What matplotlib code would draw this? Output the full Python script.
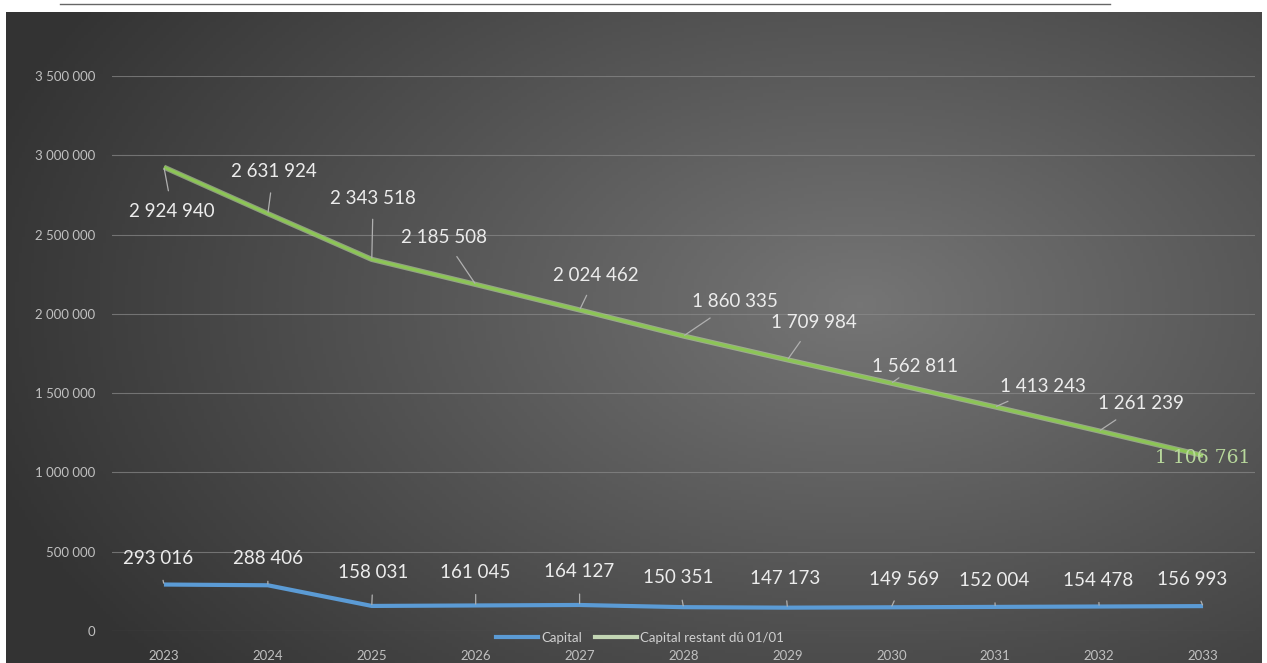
import numpy as np
import matplotlib.pyplot as plt
from matplotlib.lines import Line2D

plt.rcParams['font.family'] = ['Lato', 'DejaVu Sans']

years = ['2023', '2024', '2025', '2026', '2027', '2028', '2029', '2030', '2031', '2032', '2033']
capital = [293016, 288406, 158031, 161045, 164127, 150351, 147173, 149569, 152004, 154478, 156993]
restant = [2924940, 2631924, 2343518, 2185508, 2024462, 1860335, 1709984, 1562811, 1413243, 1261239, 1106761]

# label offsets in points (dx, dy) from each data point
off_restant = [(6, -32), (4, 30), (1, 44), (-23, 34), (12, 25), (37, 25), (19, 27), (17, 12), (34, 15), (30, 20), (0, -2)]
off_capital = [(-4, 19), (0, 19), (1, 24), (0, 24), (0, 24), (-4, 21), (-2, 21), (9, 20), (-1, 19), (-1, 19), (-8, 19)]

fig = plt.figure(figsize=(12.67, 6.63), dpi=100)
fig.patch.set_facecolor('white')

# dark background with soft radial lighting
bg = fig.add_axes([6 / 1267, 0, 1256 / 1267, 651 / 663])
bg.set_axis_off()
gx, gy = np.meshgrid(np.linspace(0, 1, 400), np.linspace(0, 1, 200))
r = np.sqrt(((gx - 0.68) / 0.7) ** 2 + ((gy - 0.55) / 0.85) ** 2)
shade = np.clip(0.46 - 0.25 * r, 0.2, 0.5)
bg.imshow(np.dstack([shade, shade, shade]), aspect='auto', extent=(0, 1, 0, 1), origin='lower')

# remnant of the heading line above the chart
fig.add_artist(Line2D([60 / 1267, 1110 / 1267], [1 - 4 / 663, 1 - 4 / 663], color='#666666', lw=1.0))

ax = fig.add_axes([112 / 1267, 1 - 631 / 663, 1143 / 1267, 555 / 663])
ax.set_facecolor('none')
x = np.arange(len(years))
ax.plot(x, capital, color='#5b9bd5', lw=3.0, label='Capital', solid_capstyle='butt')
ax.plot(x, restant, color='#c9e0b0', lw=3.8, solid_capstyle='butt', alpha=0.55)
ax.plot(x, restant, color='#8cc556', lw=2.3, solid_capstyle='butt')

ax.set_xlim(-0.5, len(years) - 0.5)
ax.set_ylim(0, 3500000)
ax.set_yticks(np.arange(0, 3500001, 500000))
ax.set_yticklabels(['0'] + [f'{v:,}'.replace(',', ' ') for v in range(500000, 3500001, 500000)])
ax.set_xticks(x)
ax.set_xticklabels(years)
ax.tick_params(axis='both', length=0, colors='#c0c0c0', labelsize=9.5)
ax.tick_params(axis='y', pad=12)
ax.tick_params(axis='x', pad=14)
ax.grid(axis='y', color='#8a8a8a', lw=0.8, alpha=0.7)
ax.set_axisbelow(True)
for s in ax.spines.values():
    s.set_visible(False)


def fmt(v):
    return f'{v:,}'.replace(',', ' ')


for i, v in enumerate(restant):
    last = i == len(restant) - 1
    ax.annotate(fmt(v), (x[i], v), xytext=off_restant[i], textcoords='offset points',
                ha='center', va='center', fontsize=13.5,
                color='#b8d89c' if last else '#ececec',
                family=['DejaVu Serif'] if last else ['Lato', 'DejaVu Sans'],
                arrowprops=None if last else dict(arrowstyle='-', color='#b0b0b0', lw=0.9,
                                                  shrinkA=7, shrinkB=1))

for i, v in enumerate(capital):
    ax.annotate(fmt(v), (x[i], v), xytext=off_capital[i], textcoords='offset points',
                ha='center', va='center', fontsize=13.5, color='#ececec',
                arrowprops=dict(arrowstyle='-', color='#b0b0b0', lw=0.9, shrinkA=8, shrinkB=1))

handles = [Line2D([], [], color='#5b9bd5', lw=3), Line2D([], [], color='#c3d6b4', lw=3)]
leg = fig.legend(handles, ['Capital', 'Capital restant dû 01/01'], loc='center',
                 bbox_to_anchor=(640 / 1267, 1 - 638 / 663), ncol=2, frameon=False,
                 fontsize=9.5, handlelength=3.2, columnspacing=1.0, handletextpad=0.2)
for t in leg.get_texts():
    t.set_color('#d0d0d0')

fig.savefig('out.png', dpi=100)
